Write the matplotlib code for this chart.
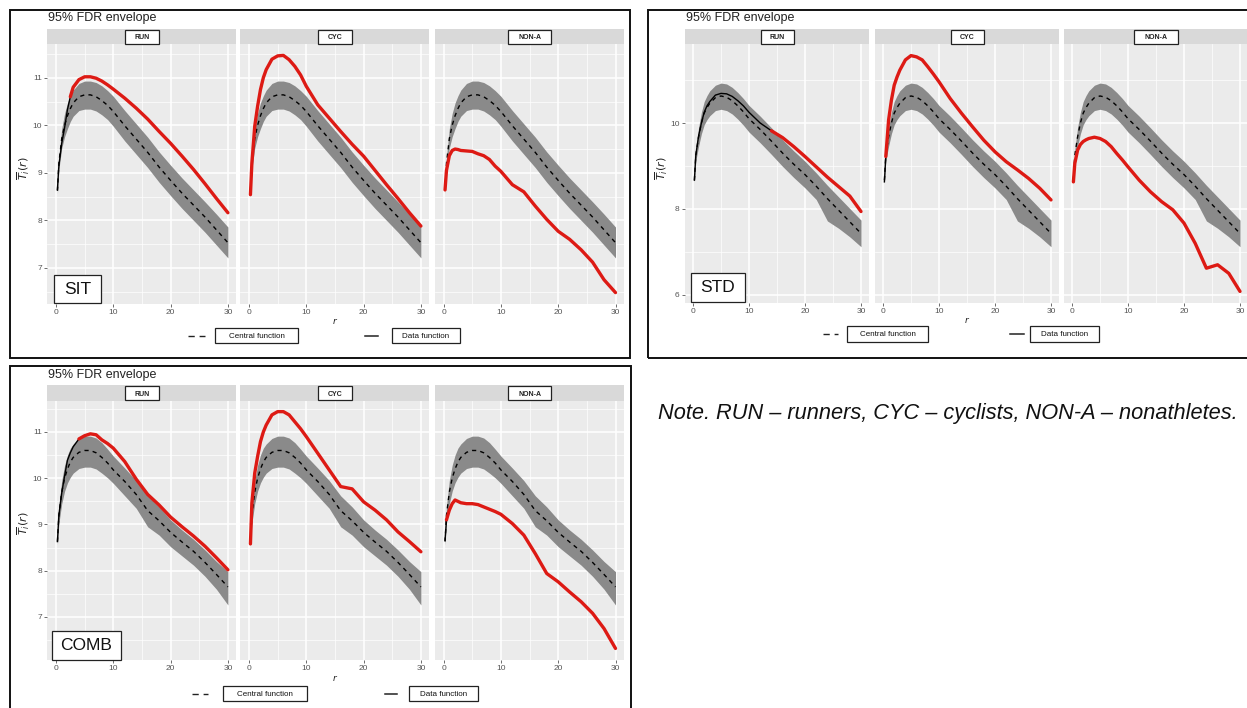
import numpy as np
import matplotlib
matplotlib.use('Agg')
import matplotlib.pyplot as plt
from matplotlib.patches import Rectangle
from matplotlib.lines import Line2D

plt.rcParams['font.family'] = ['Liberation Sans', 'DejaVu Sans']
plt.rcParams['mathtext.fontset'] = 'dejavusans'

# ---------------- data ----------------
facets = ['RUN', 'CYC', 'NON-A']
r = [0.25, 0.5, 1, 1.5, 2, 2.5, 3, 4, 5, 6, 7, 8, 9, 10, 12, 14, 16, 18, 20, 22, 24, 26, 28, 30]

SIT_central = [8.62, 9.20, 9.72, 10.00, 10.20, 10.35, 10.47, 10.60, 10.64, 10.64, 10.60, 10.52, 10.42, 10.29, 9.99, 9.71, 9.43, 9.12, 8.84, 8.57, 8.32, 8.07, 7.80, 7.53]
SIT_upper = [8.68, 9.33, 9.93, 10.25, 10.47, 10.62, 10.74, 10.88, 10.93, 10.93, 10.90, 10.83, 10.73, 10.61, 10.31, 10.03, 9.75, 9.44, 9.16, 8.89, 8.64, 8.39, 8.13, 7.86]
SIT_lower = [8.56, 9.07, 9.52, 9.76, 9.93, 10.08, 10.19, 10.31, 10.34, 10.34, 10.30, 10.22, 10.12, 9.98, 9.67, 9.39, 9.11, 8.80, 8.52, 8.25, 8.00, 7.75, 7.48, 7.21]
SIT_RUN = [8.65, 9.15, 9.62, 9.95, 10.33, 10.60, 10.80, 10.96, 11.02, 11.02, 10.99, 10.93, 10.85, 10.76, 10.57, 10.36, 10.13, 9.87, 9.62, 9.35, 9.07, 8.77, 8.46, 8.16]
SIT_CYC = [8.54, 9.20, 9.98, 10.40, 10.75, 11.00, 11.17, 11.39, 11.46, 11.47, 11.38, 11.24, 11.06, 10.82, 10.43, 10.15, 9.87, 9.60, 9.35, 9.05, 8.75, 8.46, 8.16, 7.88]
SIT_NONA = [8.64, 9.05, 9.36, 9.47, 9.50, 9.49, 9.47, 9.46, 9.45, 9.40, 9.36, 9.28, 9.14, 9.03, 8.75, 8.60, 8.30, 8.02, 7.77, 7.60, 7.38, 7.12, 6.75, 6.48]

STD_central = [8.67, 9.25, 9.68, 10.00, 10.23, 10.36, 10.46, 10.59, 10.63, 10.60, 10.52, 10.40, 10.26, 10.10, 9.85, 9.58, 9.30, 9.04, 8.80, 8.53, 8.24, 7.97, 7.70, 7.43]
STD_upper = [8.72, 9.38, 9.90, 10.25, 10.50, 10.64, 10.75, 10.88, 10.93, 10.91, 10.83, 10.71, 10.57, 10.41, 10.16, 9.89, 9.61, 9.35, 9.11, 8.84, 8.55, 8.28, 8.01, 7.74]
STD_lower = [8.62, 9.12, 9.46, 9.75, 9.96, 10.08, 10.17, 10.29, 10.32, 10.29, 10.21, 10.09, 9.95, 9.79, 9.54, 9.27, 8.99, 8.73, 8.49, 8.22, 7.72, 7.55, 7.35, 7.12]
STD_RUN = [8.67, 9.25, 9.70, 10.00, 10.25, 10.40, 10.50, 10.65, 10.69, 10.68, 10.62, 10.52, 10.40, 10.25, 10.00, 9.82, 9.66, 9.45, 9.22, 8.98, 8.74, 8.52, 8.30, 7.94]
STD_CYC = [8.63, 9.22, 10.07, 10.53, 10.88, 11.07, 11.23, 11.47, 11.57, 11.54, 11.47, 11.31, 11.14, 10.96, 10.57, 10.23, 9.91, 9.60, 9.33, 9.10, 8.91, 8.71, 8.48, 8.21]
STD_NONA = [8.63, 9.06, 9.37, 9.50, 9.57, 9.61, 9.64, 9.67, 9.64, 9.57, 9.45, 9.29, 9.14, 8.98, 8.67, 8.40, 8.17, 7.98, 7.67, 7.20, 6.62, 6.70, 6.50, 6.08]

COMB_central = [8.63, 9.20, 9.70, 10.00, 10.20, 10.35, 10.45, 10.56, 10.60, 10.60, 10.55, 10.45, 10.33, 10.18, 9.93, 9.65, 9.30, 9.08, 8.83, 8.62, 8.42, 8.18, 7.92, 7.65]
COMB_upper = [8.70, 9.40, 9.95, 10.28, 10.50, 10.65, 10.74, 10.86, 10.91, 10.91, 10.87, 10.77, 10.63, 10.48, 10.22, 9.95, 9.62, 9.38, 9.10, 8.88, 8.68, 8.45, 8.20, 7.98]
COMB_lower = [8.56, 9.02, 9.45, 9.72, 9.90, 10.02, 10.11, 10.21, 10.24, 10.24, 10.20, 10.11, 10.01, 9.89, 9.62, 9.35, 8.95, 8.77, 8.52, 8.32, 8.12, 7.88, 7.60, 7.26]
COMB_RUN = [8.63, 9.20, 9.68, 10.05, 10.39, 10.55, 10.68, 10.85, 10.92, 10.96, 10.94, 10.83, 10.75, 10.65, 10.36, 9.98, 9.65, 9.42, 9.16, 8.95, 8.75, 8.53, 8.28, 8.02]
COMB_CYC = [8.58, 9.46, 10.11, 10.47, 10.79, 11.00, 11.15, 11.37, 11.44, 11.44, 11.37, 11.22, 11.07, 10.90, 10.54, 10.18, 9.82, 9.77, 9.49, 9.31, 9.10, 8.84, 8.63, 8.41]
COMB_NONA = [8.66, 9.10, 9.31, 9.45, 9.53, 9.50, 9.47, 9.45, 9.45, 9.43, 9.38, 9.33, 9.28, 9.22, 9.02, 8.77, 8.37, 7.94, 7.76, 7.54, 7.33, 7.08, 6.75, 6.32]

x_ticks = [0, 10, 20, 30]
note_text = 'Note. RUN \u2013 runners, CYC \u2013 cyclists, NON-A \u2013 nonathletes.'

# ---------------- layout (pixels) ----------------
W, H = 1247, 708
fig = plt.figure(figsize=(W / 100, H / 100), dpi=100)
fig.patch.set_facecolor('white')


def rect(l, t, rr, b):
    return [l / W, 1 - b / H, (rr - l) / W, (b - t) / H]


def fbox(l, t, rr, b, lw=0.8, ec='#222222', fc='white', z=10):
    p = Rectangle((l / W, 1 - b / H), (rr - l) / W, (b - t) / H, transform=fig.transFigure,
                  fc=fc, ec=ec, lw=lw, zorder=z)
    fig.add_artist(p)


def ftext(x, y, s, **kw):
    fig.text(x / W, 1 - y / H, s, **kw)


def fline(x1, x2, y, **kw):
    fig.add_artist(Line2D([x1 / W, x2 / W], [1 - y / H, 1 - y / H], transform=fig.transFigure, **kw))


groups = [
    dict(name='SIT', central=SIT_central, upper=SIT_upper, lower=SIT_lower,
         data=[SIT_RUN, SIT_CYC, SIT_NONA],
         x0=[56, 249, 443.6], ppu=5.73, strip_top=29, top=44, bottom=304,
         ylim=(6.24, 11.71), yticks=[7, 8, 9, 10, 11], yminor=[6.5, 7.5, 8.5, 9.5, 10.5, 11.5],
         border=(10, 10, 630, 358), title=(48, 18), ylab=(24, 168), xlab=(335, 321),
         gbox=(54, 275, 101, 303),
         leg=dict(dash=(188, 205), cbox=(215, 328, 298, 343), line=(365, 378), dbox=(392, 328, 460, 343)),
         nbox=[34, 34, 43]),
    dict(name='STD', central=STD_central, upper=STD_upper, lower=STD_lower,
         data=[STD_RUN, STD_CYC, STD_NONA],
         x0=[693, 883, 1072], ppu=5.6, strip_top=29, top=44, bottom=303,
         ylim=(5.81, 11.84), yticks=[6, 8, 10], yminor=[7, 9, 11],
         border=(648, 10, 1252, 358), title=(686, 18), ylab=(662, 168), xlab=(967, 320),
         gbox=(691, 273, 745, 302),
         leg=dict(dash=(823, 838), cbox=(847, 326, 928, 342), line=(1010, 1024), dbox=(1030, 326, 1099, 342)),
         nbox=[33, 33, 44]),
    dict(name='COMB', central=COMB_central, upper=COMB_upper, lower=COMB_lower,
         data=[COMB_RUN, COMB_CYC, COMB_NONA],
         x0=[56, 249, 443.6], ppu=5.73, strip_top=385, top=401, bottom=660,
         ylim=(6.07, 11.67), yticks=[7, 8, 9, 10, 11], yminor=[6.5, 7.5, 8.5, 9.5, 10.5, 11.5],
         border=(10, 366, 631, 712), title=(48, 375), ylab=(24, 523), xlab=(335, 678),
         gbox=(52, 631, 121, 660),
         leg=dict(dash=(192, 208), cbox=(223, 686, 307, 701), line=(385, 397), dbox=(409, 686, 478, 701)),
         nbox=[34, 34, 43]),
]

RED = '#dd1a14'
BAND = '#8a8a8a'
rr_ = np.array(r)

for g in groups:
    # outer border
    bl, bt, br, bb = g['border']
    fbox(bl, bt, br, bb, lw=1.4, ec='#111111', fc='none', z=0)
    ftext(g['title'][0], g['title'][1], '95% FDR envelope', fontsize=9, color='#222222', va='center', ha='left')
    ftext(g['ylab'][0], g['ylab'][1], r'$\overline{T}_i(r)$', fontsize=8, rotation=90,
          va='center', ha='center', color='#222222')
    ftext(g['xlab'][0], g['xlab'][1], '$r$', fontsize=6.5, va='center', ha='center', color='#222222')

    up = np.array(g['upper'])
    lo = np.array(g['lower'])
    ce = np.array(g['central'])
    ppu = g['ppu']
    for j, fac in enumerate(facets):
        x0 = g['x0'][j]
        l = x0 - 1.5 * ppu
        rgt = x0 + 31.5 * ppu
        ax = fig.add_axes(rect(l, g['top'], rgt, g['bottom']))
        ax.set_facecolor('#EBEBEB')
        ax.set_xlim(-1.5, 31.5)
        ax.set_ylim(*g['ylim'])
        for s in ax.spines.values():
            s.set_visible(False)
        ax.set_xticks(x_ticks)
        ax.set_xticks([5, 15, 25], minor=True)
        ax.set_yticks(g['yticks'])
        ax.set_yticks(g['yminor'], minor=True)
        ax.grid(which='major', color='white', lw=1.1)
        ax.grid(which='minor', color='white', lw=0.5)
        ax.set_axisbelow(True)
        ax.tick_params(which='minor', length=0)
        ax.tick_params(which='major', length=2.2, width=0.6, color='#555555',
                       labelsize=6, labelcolor='#555555', pad=1.5)
        if j > 0:
            ax.tick_params(axis='y', which='major', labelleft=False, length=0)
        ax.fill_between(rr_, lo, up, color=BAND, lw=0, zorder=2)
        ax.plot(rr_, ce, color='black', lw=1.0, ls=(0, (3, 3)), zorder=3)
        d = np.array(g['data'][j])
        out = (d > up) | (d < lo)
        ax.plot(rr_, d, color='black', lw=1.0, zorder=4)
        near = out.copy()
        near[1:] |= out[:-1]
        near[:-1] |= out[1:]
        dr = np.where(near, d, np.nan)
        ax.plot(rr_, dr, color=RED, lw=2.4, zorder=5, solid_capstyle='round', solid_joinstyle='round')

        # strip
        sax = fig.add_axes(rect(l, g['strip_top'], rgt, g['top']))
        sax.set_facecolor('#D9D9D9')
        sax.set_xticks([])
        sax.set_yticks([])
        for s in sax.spines.values():
            s.set_visible(False)
        cx = (l + rgt) / 2
        cy = (g['strip_top'] + g['top']) / 2
        bw = g['nbox'][j]
        fbox(cx - bw / 2, cy - 7, cx + bw / 2, cy + 7, lw=0.9)
        ftext(cx, cy, fac, fontsize=5, fontweight='bold', ha='center', va='center_baseline',
              color='#222222', zorder=11)

    # group label box
    gl, gt, gr, gb = g['gbox']
    fbox(gl, gt, gr, gb, lw=0.9, z=12)
    ftext((gl + gr) / 2, (gt + gb) / 2 + 0.5, g['name'], fontsize=12.5, ha='center', va='center',
          color='#111111', zorder=13)

    # legend
    lg = g['leg']
    cl, ct, cr, cb = lg['cbox']
    ly = (ct + cb) / 2
    fline(lg['dash'][0], lg['dash'][1], ly, color='#222222', lw=1.0, ls=(0, (4.5, 3.5)))
    fbox(cl, ct, cr, cb, lw=0.9)
    ftext((cl + cr) / 2, ly, 'Central function', fontsize=5.8, ha='center', va='center_baseline',
          color='#111111', zorder=11)
    dl, dt, dr_, db = lg['dbox']
    fline(lg['line'][0], lg['line'][1], ly, color='#222222', lw=1.1)
    fbox(dl, dt, dr_, db, lw=0.9)
    ftext((dl + dr_) / 2, ly, 'Data function', fontsize=5.8, ha='center', va='center_baseline',
          color='#111111', zorder=11)

ftext(658, 413, note_text, fontsize=15.7, style='italic', ha='left', va='center', color='#111111')

fig.savefig('out.png', dpi=100, facecolor='white')
